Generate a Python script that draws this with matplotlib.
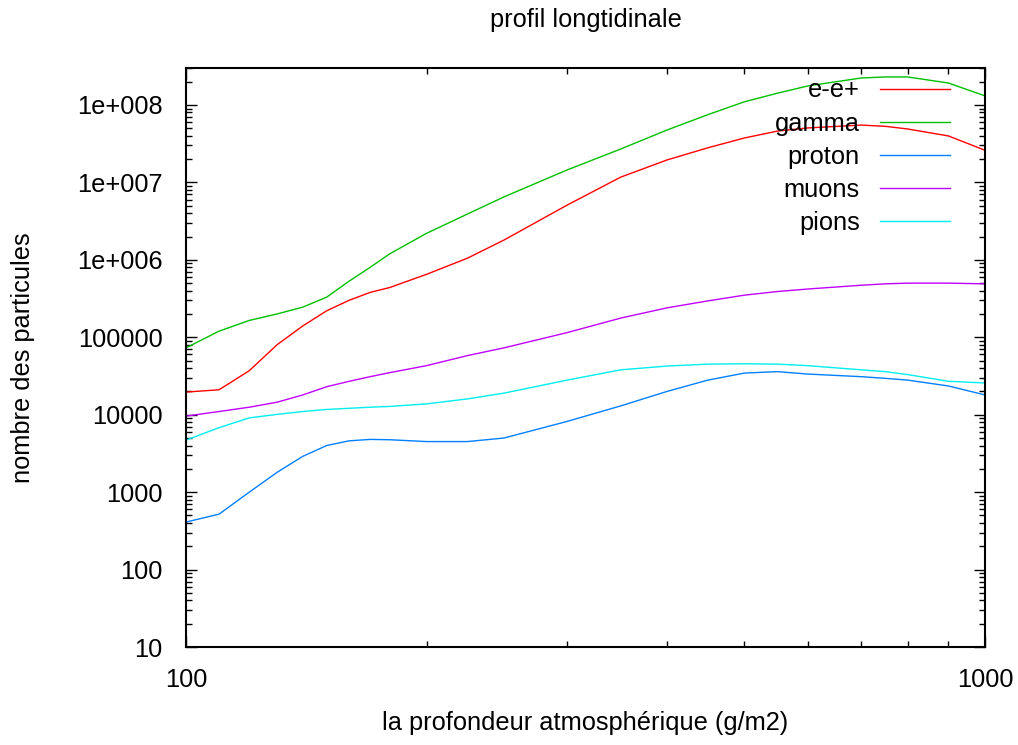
import matplotlib
matplotlib.use("Agg")
import matplotlib.pyplot as plt
from matplotlib.ticker import FixedLocator, FixedFormatter, NullFormatter

plt.rcParams['font.family'] = ['Liberation Sans', 'DejaVu Sans']

# profondeur (g/m2)
depth = [100, 110, 120, 130, 140, 150, 160, 170, 180, 200, 225, 250,
         300, 350, 400, 450, 500, 550, 600, 700, 750, 800, 900, 1000]

ee = [1.96e4, 2.1e4, 3.7e4, 8.0e4, 1.4e5, 2.2e5, 3.0e5, 3.8e5, 4.4e5, 6.5e5, 1.05e6, 1.8e6,
      5.1e6, 1.17e7, 1.95e7, 2.8e7, 3.75e7, 4.6e7, 5.05e7, 5.5e7, 5.3e7, 4.9e7, 3.98e7, 2.6e7]
gamma = [7.3e4, 1.2e5, 1.65e5, 2.0e5, 2.45e5, 3.3e5, 5.3e5, 8.0e5, 1.2e6, 2.2e6, 3.9e6, 6.5e6,
         1.45e7, 2.7e7, 4.75e7, 7.5e7, 1.1e8, 1.42e8, 1.76e8, 2.23e8, 2.3e8, 2.3e8, 1.92e8, 1.31e8]
proton = [411, 520, 1.0e3, 1.8e3, 2.9e3, 4.0e3, 4.6e3, 4.8e3, 4.75e3, 4.5e3, 4.5e3, 5.0e3,
          8.2e3, 1.3e4, 2.0e4, 2.8e4, 3.45e4, 3.6e4, 3.35e4, 3.1e4, 2.95e4, 2.8e4, 2.35e4, 1.8e4]
muons = [9.6e3, 1.1e4, 1.25e4, 1.45e4, 1.8e4, 2.3e4, 2.7e4, 3.1e4, 3.5e4, 4.3e4, 5.8e4, 7.3e4,
         1.15e5, 1.77e5, 2.4e5, 2.95e5, 3.5e5, 3.9e5, 4.2e5, 4.7e5, 4.9e5, 5.0e5, 5.0e5, 4.9e5]
pions = [4.7e3, 6.8e3, 9.1e3, 1.01e4, 1.1e4, 1.17e4, 1.21e4, 1.25e4, 1.28e4, 1.38e4, 1.6e4, 1.9e4,
         2.8e4, 3.8e4, 4.25e4, 4.5e4, 4.55e4, 4.5e4, 4.3e4, 3.8e4, 3.6e4, 3.3e4, 2.7e4, 2.57e4]

names = ['e-e+', 'gamma', 'proton', 'muons', 'pions']
colors = ['#ff0000', '#00c000', '#0080ff', '#c000ff', '#00eeee']

yticks = [10, 100, 1000, 1e4, 1e5, 1e6, 1e7, 1e8]
ylabels = ['10', '100', '1000', '10000', '100000', '1e+006', '1e+007', '1e+008']

fs = 18.3

fig = plt.figure(figsize=(10.18, 7.45), dpi=100)
ax = fig.add_axes([0.1827, 0.1315, 0.7849, 0.7772])

for vals, name, col in zip([ee, gamma, proton, muons, pions], names, colors):
    ax.plot(depth, vals, color=col, lw=1.0, label=name)

ax.set_xscale('log')
ax.set_yscale('log')
ax.set_xlim(100, 1000)
ax.set_ylim(10, 3e8)

ax.xaxis.set_major_locator(FixedLocator([100, 1000]))
ax.xaxis.set_major_formatter(FixedFormatter(['100', '1000']))
ax.xaxis.set_minor_locator(FixedLocator([200, 300, 400, 500, 600, 700, 800, 900]))
ax.xaxis.set_minor_formatter(NullFormatter())
ax.yaxis.set_major_locator(FixedLocator(yticks))
ax.yaxis.set_major_formatter(FixedFormatter(ylabels))
ax.yaxis.set_minor_formatter(NullFormatter())

ax.tick_params(which='both', direction='in', top=True, right=True, labelsize=fs)
ax.tick_params(which='major', length=8, width=1.0)
ax.tick_params(which='minor', length=4, width=1.0)
ax.tick_params(axis='x', pad=15)
ax.tick_params(axis='y', pad=17)
for s in ax.spines.values():
    s.set_linewidth(1.5)

ax.set_title('profil longtidinale', fontsize=fs, pad=29.5)
ax.set_xlabel('la profondeur atmosphérique (g/m2)', fontsize=fs, labelpad=14)
ax.set_ylabel('nombre des particules', fontsize=fs, labelpad=30)

ax.legend(loc='upper right', bbox_to_anchor=(0.956, 0.982), frameon=False,
          markerfirst=False, fontsize=fs, handlelength=2.75, handletextpad=0.8,
          labelspacing=0.36, borderpad=0, borderaxespad=0)

plt.savefig('out.png', dpi=100)
